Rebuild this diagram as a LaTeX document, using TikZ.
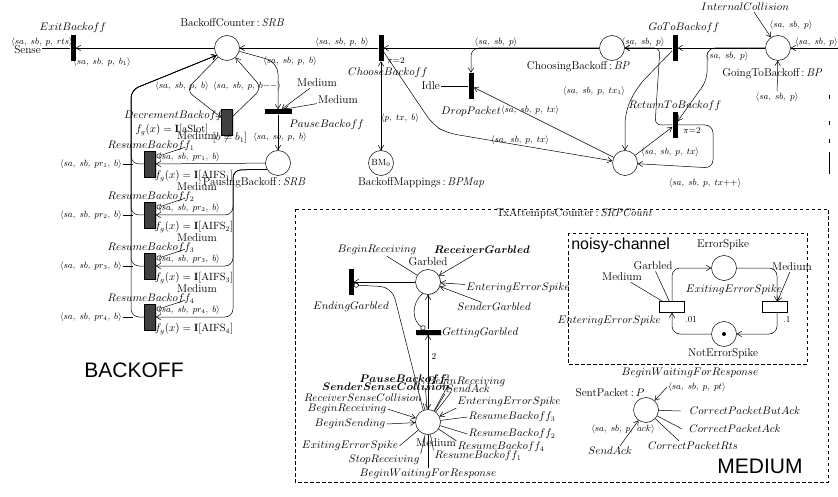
\documentclass[tikz,border=0pt]{standalone}
\usepackage{fontspec}
\newfontfamily\hv{Liberation Sans}
\usetikzlibrary{arrows.meta,shadows}
\newcommand{\tup}[1]{$\langle #1\rangle$}
\newcommand{\tn}[1]{$#1$}
\newcommand{\tnb}[1]{{\boldmath$#1$}}
\begin{document}
\begin{tikzpicture}[x=1pt,y=-1pt,
  >={Straight Barb[length=4.5pt,width=5.5pt]},
  line width=0.5pt,
  pl/.style={circle,draw,fill=white,minimum size=25pt,inner sep=0pt},
  vbar/.style={fill=black,minimum width=5pt,minimum height=26pt,inner sep=0pt},
  hbar/.style={fill=black,minimum width=27pt,minimum height=5pt,inner sep=0pt},
  ttr/.style={draw,fill=black!75,minimum width=11pt,minimum height=26pt,inner sep=0pt,drop shadow={shadow xshift=1.2pt,shadow yshift=-1.2pt,opacity=0.35}},
  wtr/.style={draw,fill=white,minimum width=25pt,minimum height=11pt,inner sep=0pt},
  lab/.style={font=\fontsize{11.3}{13}\selectfont,inner sep=1pt},
  tlab/.style={font=\fontsize{10.5}{12}\selectfont,inner sep=1pt},
  ins/.style={font=\fontsize{9}{10}\selectfont,inner sep=1pt},
  arc/.style={draw,->},
  inh/.style={draw,-{Circle[open,length=5pt,width=5pt]}},
  dbox/.style={draw,dash pattern=on 3.5pt off 2.5pt,line width=0.7pt},
  big/.style={font=\hv\fontsize{21}{24}\selectfont,inner sep=0pt}
]
\useasboundingbox (0,0) rectangle (838,497);

% ================= BACKOFF =================
\node[pl] (BC) at (227,48) {};
\node[lab] at (232,23) {BackoffCounter\,:\,$\mathit{SRB}$};
\node[vbar] (EB) at (73,48) {};
\node[tlab] at (73,28) {\tn{ExitBackoff}};
\node[lab,anchor=east] (sense) at (42,50) {Sense};
\node[ins] at (42,42) {\tup{sa,\; sb,\; p,\; rts}};
\node[ins] at (102,62) {\tup{sa,\; sb,\; p,\; b_1}};
\draw[arc] (BC) -- (EB);
\draw (EB.west) -- (EB.west -| sense.east);

\node[vbar] (CB) at (381,48) {};
\node[tlab] at (388,73) {\tn{ChooseBackoff}};
\node[ins,anchor=west] at (386,61) {$\pi{=}2$};
\draw[arc] (CB) -- (BC);
\node[ins] at (342,42) {\tup{sa,\; sb,\; p,\; b}};

\node[pl] (BM) at (381,163) {\fontsize{9}{10}\selectfont BM$_0$};
\node[lab] at (421,183) {BackoffMappings\,:\,$\mathit{BPMap}$};
\draw[<->] (CB) -- (BM);
\node[ins] at (400,118) {\tup{p,\; tx,\; b}};

\node[pl] (CgB) at (612,48) {};
\node[lab] at (578,67) {ChoosingBackoff\,:\,$\mathit{BP}$};
\draw[arc] (CgB) -- (CB);

\node[vbar] (DP) at (471,86) {};
\node[tlab] at (471,112) {\tn{DropPacket}};
\node[lab,anchor=east] (idle) at (441,86) {Idle};
\draw (idle) -- (DP);
\draw[arc,rounded corners=8pt] (CgB.west) -- (471,48) -- (DP.north);
\node[ins] at (496,42) {\tup{sa,\; sb,\; p}};

\node[pl] (TX) at (625,163) {};
\draw[arc] (TX) -- (DP);
\node[ins] at (530,110) {\tup{sa,\; sb,\; p,\; tx}};
\draw[arc,rounded corners=10pt] (CB) -- (433,125) -- (447,133) -- (TX);
\node[ins] at (520,140) {\tup{sa,\; sb,\; p,\; tx}};

\node[vbar] (GTB) at (675,48) {};
\node[tlab] at (684,28) {\tn{GoToBackoff}};
\draw[arc] (GTB) -- (CgB);
\node[ins] at (643,42) {\tup{sa,\; sb,\; p}};
\draw[arc,rounded corners=12pt] (GTB) -- (637,87) -- (625,112) -- (TX);
\node[ins] at (594,91) {\tup{sa,\; sb,\; p,\; tx_1}};

\node[pl] (GoB) at (778,48) {};
\node[lab] at (772,74) {GoingToBackoff\,:\,$\mathit{BP}$};
\draw[arc] (GoB) -- (GTB);
\node[tlab] (IC) at (745,7) {\tn{InternalCollision}};
\draw[arc] ([xshift=9pt]IC.south) -- (GoB);
\node[ins] at (791,25) {\tup{sa,\; sb,\; p}};
\coordinate (rin) at (838,48);
\draw[arc] (rin) -- (GoB);
\node[ins,anchor=east] at (839,42) {\tup{sa,\; sb,\; p}};
\node[ins] (bin) at (777,97) {\tup{sa,\; sb,\; p}};
\draw[arc] (bin) -- (GoB);

\node[vbar] (RTB) at (675,125) {};
\node[tlab] at (675,106) {\tn{ReturnToBackoff}};
\node[ins,anchor=west] at (682,131) {$\pi{=}2$};
\draw[arc,rounded corners=8pt] (GoB.west) -- (707,48) -- (707,80) -- (RTB);
\node[ins] at (727,56) {\tup{sa,\; sb,\; p}};
\draw[arc] (TX) -- (RTB);
\node[ins] at (670,152) {\tup{sa,\; sb,\; p,\; tx}};
\draw[arc,rounded corners=8pt] (RTB.east) -- (713,125) -- (713,168) -- (TX);
\node[ins] at (705,183) {\tup{sa,\; sb,\; p,\; tx{+}{+}}};
\draw[arc,rounded corners=6pt] (RTB.west) -- (655,125) -- (660,48) -- (CgB.east);

% pause
\node[hbar] (PB) at (278,112) {};
\node[tlab,anchor=west] at (288,125) {\tn{PauseBackoff}};
\draw[arc,rounded corners=12pt] (BC) -- (278,62) -- (PB);
\node[ins] at (290,61) {\tup{sa,\; sb,\; p,\; b}};
\node[lab] (M1) at (317,83) {Medium};
\node[lab] (M2) at (338,100) {Medium};
\draw[arc] (M1) -- (PB);
\draw[arc] (M2) -- ([xshift=6pt]PB.north);
\node[pl] (PaB) at (278,163) {};
\draw[arc] (PB) -- (PaB);
\node[ins] at (280,137) {\tup{sa,\; sb,\; p,\; b}};
\node[lab] at (254,183) {PausingBackoff\,:\,$\mathit{SRB}$};

% decrement
\node[ttr] (DB) at (227,122) {};
\node[tlab,anchor=east] at (224,116) {\tn{DecrementBackoff}};
\node[tlab] at (172,130) {$f_g(x) = \mathbf{I}[\mathrm{aSlot}]$};
\node[tlab] at (230,138) {$[b\neq b_1]$};
\draw[arc,rounded corners=8pt] (BC) -- (186,90) -- (DB);
\node[ins] at (182,86) {\tup{sa,\; sb,\; p,\; b}};
\draw[arc,rounded corners=8pt] (DB) -- (262,88) -- (BC);
\node[ins] at (247,86) {\tup{sa,\; sb,\; p,\; b{-}{-}}};

% resume
\foreach \i/\y in {1/164,2/215,3/266,4/317}{
  \node[ttr] (RB\i) at (150,\y) {};
  \node[tlab] at (151,\y-18) {\tn{ResumeBackoff_\i}};
  \node[lab] (MR\i) at (197,\y-28) {Medium};
  \draw[inh] ([xshift=-12pt,yshift=-6pt]MR\i.south) -- ([xshift=1pt,yshift=-6pt]RB\i.north east);
  \node[tlab] at (194,\y+12) {$f_g(x) = \mathbf{I}[\mathrm{AIFS}_\i]$};
  \node[ins] at (189,\y-7) {\tup{sa,\; sb,\; pr_\i,\; b}};
  \node[ins,anchor=east] (LR\i) at (123,\y) {\tup{sa,\; sb,\; pr_\i,\; b}};
  \draw (LR\i.east) -- (133,\y);
  \draw[arc,rounded corners=8pt] (RB\i.west) -- (131,\y) -- (131,90) -- (BC.215);
}
\draw[arc] (PaB) -- (RB1);
\foreach \i/\y in {2/215,3/266,4/317}{
  \draw[arc,rounded corners=8pt] (PaB.210) -- (233,170) -- (233,\y) -- (RB\i.east);
}
\node[big] at (134,370) {BACKOFF};

% right edge marks
\draw[line width=1pt] (829,152) -- (829,174);
\draw[line width=0.8pt] (829,95) -- (829,99) (829,121) -- (829,125) (829,139) -- (829,143);

% ================= MEDIUM =================
\draw[dbox] (295,209) rectangle (828,482);
\node[lab] at (574,214) {TxAttemptsCounter\,:\,$\mathit{SRPCount}$};
\draw[dbox] (568,233) rectangle (807,364);
\node[font=\hv\fontsize{16}{18}\selectfont,anchor=west,inner sep=0pt] at (571,245) {noisy-channel};

\node[pl] (ES) at (724,268) {};
\node[lab] at (723,245) {ErrorSpike};
\node[pl] (NES) at (724,334) {};
\fill (NES) circle (2pt);
\node[lab] at (723,354) {NotErrorSpike};
\node[wtr] (EES) at (672,307) {};
\node[wtr] (XES) at (775,307) {};
\draw[arc,rounded corners=8pt] (EES.north) -- (672,268) -- (ES);
\draw[arc,rounded corners=8pt] (ES) -- (777,268) -- ([xshift=2pt]XES.north);
\draw[arc,rounded corners=8pt] ([xshift=2pt]XES.south) -- (777,334) -- (NES);
\draw[arc,rounded corners=8pt] (NES) -- (672,334) -- (EES.south);
\node[ins,anchor=west] at (684,320) {.01};
\node[ins,anchor=west] at (782,320) {.1};
\node[tlab,anchor=east] at (662,321) {\tn{EnteringErrorSpike}};
\node[lab] (G2) at (653,266) {Garbled};
\draw (G2) -- (EES);
\node[lab] (M3) at (622,277) {Medium};
\draw (M3) -- (EES);
\node[tlab] at (734,290) {\tn{ExitingErrorSpike}};
\node[lab] (M4) at (792,267) {Medium};
\draw[arc] (M4) -- (XES);

% garbled
\node[pl,drop shadow={shadow xshift=1pt,shadow yshift=-1pt,opacity=0.25}] (GA) at (428,282) {};
\node[lab] at (428,262) {Garbled};
\node[tlab] (BR1) at (377,250) {\tn{BeginReceiving}};
\draw (BR1) -- (GA);
\node[tlab] (RG) at (482,250) {\tnb{ReceiverGarbled}};
\draw[arc] (RG) -- (GA);
\node[tlab] (EES2) at (518,288) {\tn{EnteringErrorSpike}};
\draw[arc] (EES2) -- (GA);
\node[tlab] (SG) at (494,307) {\tn{SenderGarbled}};
\draw[arc] (SG) -- (GA);
\node[vbar] (EG) at (351,282) {};
\node[tlab] at (351,307) {\tn{EndingGarbled}};
\draw[arc] (GA) -- (EG);
\node[hbar,minimum width=25pt,drop shadow={shadow xshift=1pt,shadow yshift=-1pt,opacity=0.35}] (GG) at (428,332) {};
\node[tlab,anchor=west] at (441,333) {\tn{GettingGarbled}};
\draw[arc] (GG) -- (GA);
\draw[inh] (GA.245) .. controls (410,305) and (413,321) .. ([xshift=-3pt]GG.north);

\node[pl] (MED) at (428,422) {};
\node[lab] at (436,443) {Medium};
\draw[<->] (GG) -- (MED);
\node[ins] at (434,357) {2};
\node[ins] at (447,378) {2};
\draw[inh,rounded corners=12pt] (MED.112) -- (392,287) -- ([yshift=-3pt]EG.east);

\node[tlab] (mPB) at (403,380) {\tnb{PauseBackoff}};
\node[tlab] (mBRt) at (466,382) {\tn{BeginReceiving}};
\node[tlab] (mSSC) at (386,387) {\tnb{SenderSenseCollision}};
\node[tlab] (mSA) at (468,389) {\tn{SendAck}};
\node[tlab] (mRSC) at (363,398) {\tn{ReceiverSenseCollision}};
\node[tlab] (mEES) at (509,402) {\tn{EnteringErrorSpike}};
\node[tlab] (mBRl) at (347,409) {\tn{BeginReceiving}};
\node[tlab] (mRB3) at (512,417) {\tn{ResumeBackoff_3}};
\node[tlab] (mBS) at (350,424) {\tn{BeginSending}};
\node[tlab] (mRB2) at (512,434) {\tn{ResumeBackoff_2}};
\node[tlab] (mXES) at (350,446) {\tn{ExitingErrorSpike}};
\node[tlab] (mRB4) at (501,447) {\tn{ResumeBackoff_4}};
\node[tlab] (mSR) at (384,460) {\tn{StopReceiving}};
\node[tlab] (mRB1) at (478,456) {\tn{ResumeBackoff_1}};
\node[tlab] (mBW) at (428,474) {\tn{BeginWaitingForResponse}};
\draw (mPB.south east) -- (MED);
\draw (mSSC.south east) -- (MED);
\draw (mRSC.south east) -- (MED);
\draw (mBRt.south west) -- (MED);
\draw (mSA.south west) -- (MED);
\draw[arc] (mEES.south west) -- (MED);
\draw[arc] (mBRl.east) -- (MED);
\draw[arc] (mBS.east) -- (MED);
\draw (mRB3.west) -- (MED);
\draw (mRB2.west) -- (MED);
\draw (mXES.east) -- (MED);
\draw (mRB4.north west) -- (MED);
\draw (mSR.north east) -- (MED);
\draw (mRB1.north west) -- (MED);
\draw (mBW.north) -- (MED);

% sent packet
\node[pl] (SP) at (646,410) {};
\node[lab] at (610,393) {SentPacket\,:\,$P$};
\node[tlab] (BWR) at (690,373) {\tn{BeginWaitingForResponse}};
\node[ins] (ipt) at (697,387) {\tup{sa,\; sb,\; p,\; pt}};
\draw[arc] (ipt.west) -- (SP);
\node[tlab] (CPBA) at (745,411) {\tn{CorrectPacketButAck}};
\draw ([xshift=-8pt]CPBA.west) -- (SP);
\node[tlab] (CPA) at (735,429) {\tn{CorrectPacketAck}};
\draw ([xshift=-6pt]CPA.west) -- (SP);
\node[tlab] (CPR) at (693,446) {\tn{CorrectPacketRts}};
\draw ([xshift=-14pt]CPR.north) -- (SP);
\node[ins] at (623,429) {\tup{sa,\; sb,\; p,\; ack}};
\node[tlab] (SAk) at (610,451) {\tn{SendAck}};
\draw[arc] ([xshift=10pt]SAk.north) -- (SP);

\node[big] at (760,466) {MEDIUM};
\end{tikzpicture}
\end{document}
